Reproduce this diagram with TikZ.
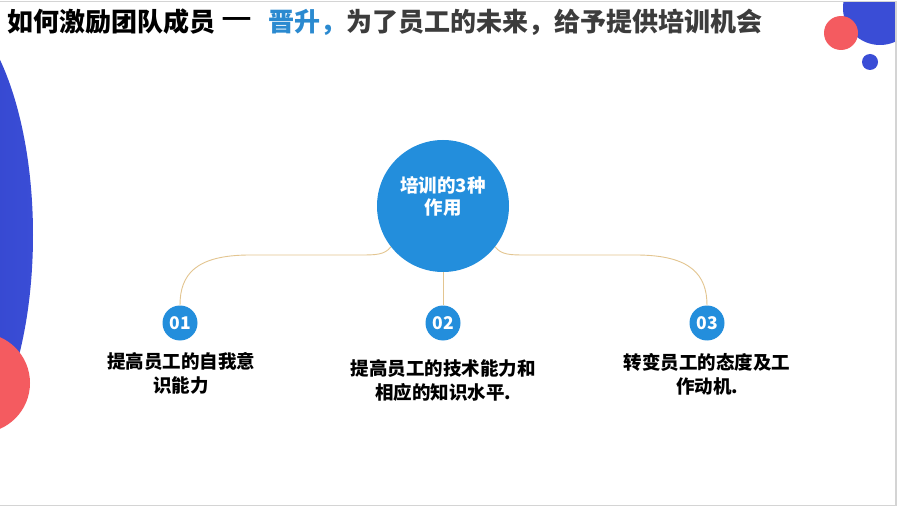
\documentclass[tikz,border=0pt]{standalone}
\usepackage{fontspec}
\setmainfont{Noto Sans CJK SC}
\newfontfamily\cjk{Noto Sans CJK SC}
\definecolor{mainblue}{HTML}{238EDC}
\definecolor{decoblue}{HTML}{3A4DD6}
\definecolor{decoblueb}{HTML}{2A3BBE}
\definecolor{decored}{HTML}{F45B60}
\definecolor{linetan}{HTML}{E3C590}
\definecolor{titleblue}{HTML}{2B8AD0}
\definecolor{titlegray}{HTML}{3C3C3C}
\definecolor{framegray}{HTML}{D4D4D4}
\tikzset{
  hub/.style={circle, fill=mainblue, minimum size=132pt, inner sep=0pt},
  hubtext/.style={text=white, font=\cjk\bfseries\fontsize{18.5}{22}\selectfont, align=center, inner sep=0pt},
  numdot/.style={circle, fill=mainblue, minimum size=35pt, inner sep=0pt, text=white, font=\cjk\bfseries\fontsize{17.5}{20}\selectfont},
  label/.style={font=\cjk\bfseries\fontsize{18.5}{24}\selectfont, align=center, text=black, inner sep=0pt},
  titletext/.style={anchor=west, inner sep=0pt, font=\cjk\bfseries\fontsize{26}{28}\selectfont},
  conn/.style={draw=linetan, line width=0.9pt}
}
\begin{document}
\begin{tikzpicture}[x=1pt,y=-1pt]
\useasboundingbox (0,0) rectangle (898,508);
\fill[white] (0,0) rectangle (898,508);
\begin{scope}
\clip (0,2) rectangle (895,505);
% left decorations
\shade[left color=decoblueb, right color=decoblue] (-67,235) ellipse [x radius=100, y radius=236];
\fill[decored] (-20,383) circle [radius=50];
% top right decorations
\fill[decoblue] (880,8) circle [radius=37];
\fill[decored] (841,33) circle [radius=17];
\fill[decoblue] (870,62) circle [radius=8];
\end{scope}
% frame
\draw[framegray, line width=1.5pt] (0,1.5) -- (896,1.5) -- (896,505.5) -- (0,505.5);

% title
\node[titletext, text=black] (t1) at (7,22) {如何激励团队成员};
\node[titletext, text=black] (t2) at (221,22) {\scalebox{1.3}[1]{—}};
\node[titletext, text=titleblue] (t3) at (268,22) {晋升，};
\node[titletext, text=titlegray] (t4) at (346,22) {为了员工的未来，给予提供培训机会};

% hub
\node[hub] (hub) at (443,206) {};
\node[hubtext] (hubtxt) at (443,196) {培训的3种\\作用};
% number dots
\node[numdot] (n1) at (180,323) {01};
\node[numdot] (n2) at (443,323) {02};
\node[numdot] (n3) at (707,323) {03};

% connectors
\draw[conn] (hub.218) .. controls (385,255) and (375,255) .. (360,255) -- (250,255) .. controls (195,255) and (180,275) .. (n1.north);
\draw[conn] (hub.322) .. controls (501,255) and (511,255) .. (526,255) -- (636,255) .. controls (691,255) and (707,275) .. (n3.north);
\draw[conn] (hub.south) -- (n2.north);

% labels
\node[label] (l1) at (181,373) {提高员工的自我意\\识能力};
\node[label] (l2) at (443,380) {提高员工的技术能力和\\相应的知识水平.};
\node[label] (l3) at (707,374) {转变员工的态度及工\\作动机.};
\end{tikzpicture}
\end{document}
